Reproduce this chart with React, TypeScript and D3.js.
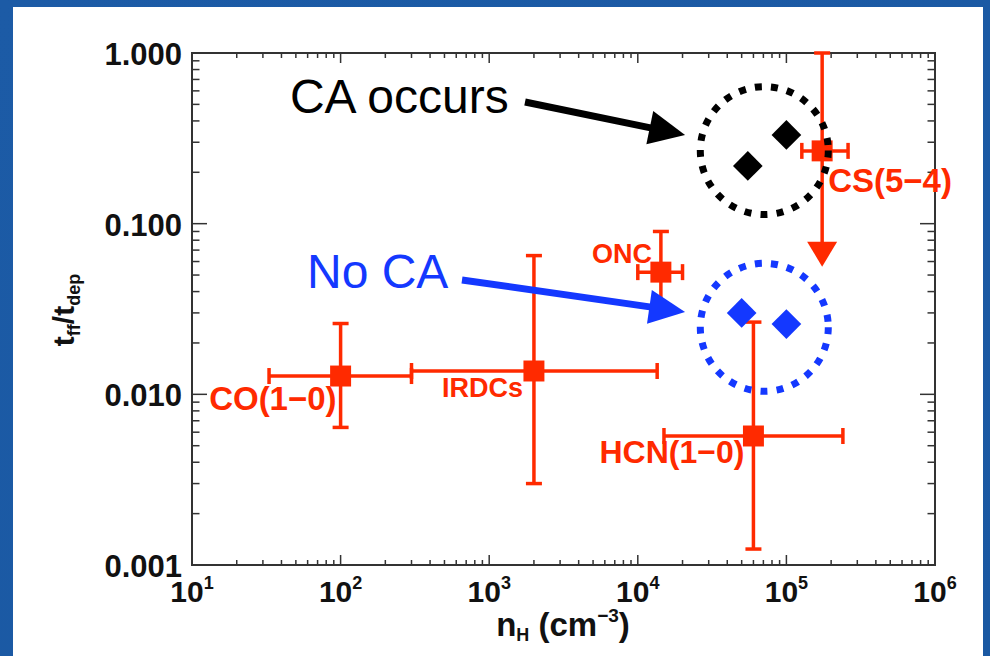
import React, { useEffect, useRef } from 'react'
import * as d3 from 'd3'

// observed tracers: density n_H (cm^-3) and t_ff/t_dep with error ranges
const tracerNames = ['CO(1−0)', 'IRDCs', 'ONC', 'HCN(1−0)', 'CS(5−4)']
const tracerN = [100, 2000, 14300, 60000, 174000]
const tracerNLow = [33, 300, 10000, 15000, 127000]
const tracerNHigh = [300, 13500, 20000, 240000, 260000]
const tracerRatio = [0.0128, 0.0137, 0.052, 0.0057, 0.267]
const tracerRatioLow = [0.0064, 0.003, 0.03, 0.00124, 0.056]
const tracerRatioHigh = [0.026, 0.065, 0.09, 0.0265, 1.0]
const tracerIsLimit = [false, false, false, false, true]

// model clouds
const caN = [55000, 100000]
const caRatio = [0.218, 0.331]
const noCaN = [50000, 100000]
const noCaRatio = [0.03, 0.0258]

// annotations
const noteText = ['CA occurs', 'No CA']
const noteN = [45.6, 59.4]
const noteRatio = [0.445, 0.042]
const arrowFromN = [1742, 656]
const arrowFromRatio = [0.516, 0.0468]
const arrowToN = [20800, 20800]
const arrowToRatio = [0.331, 0.0304]
const ringN = [71000, 71000]
const ringRatio = [0.268, 0.0247]

const xDomain = [10, 1e6]
const yDomain = [0.001, 1]

const W = 990
const H = 656
const RED = '#ff2a00'
const BLUE = '#1438ff'
const noteColors = ['#000000', BLUE]

// label placement relative to each point
const labelDx = [-4, -11, -9, -9, 6]
const labelDy = [34, 26, -9, 27, 41]
const labelAnchor = ['end', 'end', 'end', 'end', 'start']
const labelSize = [33, 27, 27, 32, 33]

const FONT = 'Liberation Sans, Arial, Helvetica, sans-serif'

export default function App() {
  const ref = useRef<SVGSVGElement>(null)

  useEffect(() => {
    const svg = d3.select(ref.current)
    svg.selectAll('*').remove()

    const left = 192, right = 935, top = 53, bottom = 565

    const x = d3.scaleLog().domain(xDomain).range([left, right])
    const y = d3.scaleLog().domain(yDomain).range([bottom, top])

    // slide background + white panel
    const defs = svg.append('defs')
    const grad = defs.append('linearGradient').attr('id', 'bg').attr('x1', 0).attr('y1', 0).attr('x2', 1).attr('y2', 1)
    grad.append('stop').attr('offset', 0).attr('stop-color', '#1c5ba6')
    grad.append('stop').attr('offset', 1).attr('stop-color', '#1a58a2')
    svg.append('rect').attr('width', W).attr('height', H).attr('fill', 'url(#bg)')
    svg.append('rect').attr('x', 13).attr('y', 7).attr('width', 970).attr('height', 660).attr('fill', '#fff')

    const g = svg.append('g')

    const isMajor = (t: number) => Math.abs(Math.log10(t) - Math.round(Math.log10(t))) < 1e-9

    // ticks on all four sides, pointing inward
    const axisCol = '#333'
    x.ticks().forEach(t => {
      const len = isMajor(t) ? 10 : 5
      const px = x(t)
      g.append('line').attr('x1', px).attr('x2', px).attr('y1', bottom).attr('y2', bottom - len).attr('stroke', axisCol).attr('stroke-width', 1.5)
      g.append('line').attr('x1', px).attr('x2', px).attr('y1', top).attr('y2', top + len).attr('stroke', axisCol).attr('stroke-width', 1.5)
    })
    y.ticks().forEach(t => {
      const len = isMajor(t) ? 15 : 7.5
      const py = y(t)
      g.append('line').attr('x1', left).attr('x2', left + len).attr('y1', py).attr('y2', py).attr('stroke', axisCol).attr('stroke-width', 1.5)
      g.append('line').attr('x1', right).attr('x2', right - len).attr('y1', py).attr('y2', py).attr('stroke', axisCol).attr('stroke-width', 1.5)
    })
    g.append('rect').attr('x', left).attr('y', top).attr('width', right - left).attr('height', bottom - top)
      .attr('fill', 'none').attr('stroke', axisCol).attr('stroke-width', 2)

    // y tick labels
    y.ticks().filter(isMajor).forEach(t => {
      g.append('text').attr('x', left - 10).attr('y', y(t) + 12)
        .attr('text-anchor', 'end').attr('font-family', FONT).attr('font-weight', 'bold')
        .attr('font-size', 31).attr('fill', '#111').text(d3.format('.3f')(t))
    })
    // x tick labels 10^n
    x.ticks().filter(isMajor).forEach(t => {
      const txt = g.append('text').attr('x', x(t)).attr('y', 602)
        .attr('text-anchor', 'middle').attr('font-family', FONT).attr('font-weight', 'bold')
        .attr('font-size', 30).attr('fill', '#111')
      txt.append('tspan').text('10')
      txt.append('tspan').attr('font-size', 18).attr('dy', -13).text(String(Math.round(Math.log10(t))))
    })

    // axis titles
    const xt = g.append('text').attr('x', 563).attr('y', 636).attr('text-anchor', 'middle')
      .attr('font-family', FONT).attr('font-weight', 'bold').attr('font-size', 33).attr('fill', '#111')
    xt.append('tspan').text('n')
    xt.append('tspan').attr('font-size', 18).attr('dy', 5).text('H')
    xt.append('tspan').attr('dy', -5).text(' (cm')
    xt.append('tspan').attr('font-size', 19).attr('dy', -14).text('−3')
    xt.append('tspan').attr('dy', 14).text(')')

    const yt = g.append('text').attr('transform', 'translate(74,310) rotate(-90)').attr('text-anchor', 'middle')
      .attr('font-family', FONT).attr('font-weight', 'bold').attr('font-size', 30).attr('fill', '#111')
    yt.append('tspan').text('t')
    yt.append('tspan').attr('font-size', 18).attr('dy', 6).text('ff')
    yt.append('tspan').attr('dy', -6).text('/t')
    yt.append('tspan').attr('font-size', 18).attr('dy', 6).text('dep')

    // error bars
    const bw = 3.5
    const cap = 8
    tracerN.forEach((n, i) => {
      const px = x(n), py = y(tracerRatio[i])
      const xl = x(tracerNLow[i]), xr = x(tracerNHigh[i])
      const yl = y(tracerRatioLow[i]), yh = y(tracerRatioHigh[i])
      g.append('line').attr('x1', xl).attr('x2', xr).attr('y1', py).attr('y2', py).attr('stroke', RED).attr('stroke-width', bw)
      g.append('line').attr('x1', xl).attr('x2', xl).attr('y1', py - cap).attr('y2', py + cap).attr('stroke', RED).attr('stroke-width', bw)
      g.append('line').attr('x1', xr).attr('x2', xr).attr('y1', py - cap).attr('y2', py + cap).attr('stroke', RED).attr('stroke-width', bw)
      g.append('line').attr('x1', px).attr('x2', px).attr('y1', yh).attr('y2', tracerIsLimit[i] ? yl - 22 : yl).attr('stroke', RED).attr('stroke-width', bw)
      g.append('line').attr('x1', px - cap).attr('x2', px + cap).attr('y1', yh).attr('y2', yh).attr('stroke', RED).attr('stroke-width', bw)
      if (tracerIsLimit[i]) {
        g.append('path').attr('d', `M${px - 15},${yl - 25}L${px + 15},${yl - 25}L${px},${yl}Z`).attr('fill', RED)
      } else {
        g.append('line').attr('x1', px - cap).attr('x2', px + cap).attr('y1', yl).attr('y2', yl).attr('stroke', RED).attr('stroke-width', bw)
      }
      g.append('path').attr('transform', `translate(${px},${py})`)
        .attr('d', d3.symbol(d3.symbolSquare, 440)()).attr('fill', RED)
    })

    // model diamonds
    const diamond = d3.symbol(d3.symbolSquare, 440)()
    caN.forEach((n, i) => {
      g.append('path').attr('transform', `translate(${x(n)},${y(caRatio[i])}) rotate(45)`).attr('d', diamond).attr('fill', '#000')
    })
    noCaN.forEach((n, i) => {
      g.append('path').attr('transform', `translate(${x(n)},${y(noCaRatio[i])}) rotate(45)`).attr('d', diamond).attr('fill', BLUE)
    })

    // tracer labels
    tracerNames.forEach((name, i) => {
      g.append('text').attr('x', x(tracerN[i]) + labelDx[i]).attr('y', y(tracerRatio[i]) + labelDy[i])
        .attr('text-anchor', labelAnchor[i]).attr('font-family', FONT).attr('font-weight', 'bold')
        .attr('font-size', labelSize[i]).attr('fill', RED).text(name)
    })

    // dotted rings, arrows and notes
    noteText.forEach((txt, i) => {
      const col = noteColors[i]
      g.append('circle').attr('cx', x(ringN[i])).attr('cy', y(ringRatio[i])).attr('r', 64)
        .attr('fill', 'none').attr('stroke', col).attr('stroke-width', 7).attr('stroke-dasharray', '7 9.2')

      const x0 = x(arrowFromN[i]), y0 = y(arrowFromRatio[i])
      const x1 = x(arrowToN[i]), y1 = y(arrowToRatio[i])
      const ang = Math.atan2(y1 - y0, x1 - x0)
      const hl = 36, hw = 17
      const bx = x1 - hl * Math.cos(ang), by = y1 - hl * Math.sin(ang)
      g.append('line').attr('x1', x0).attr('y1', y0).attr('x2', bx + 2 * Math.cos(ang)).attr('y2', by + 2 * Math.sin(ang))
        .attr('stroke', col).attr('stroke-width', 7)
      const nx = -Math.sin(ang), ny = Math.cos(ang)
      g.append('path').attr('d', `M${x1},${y1}L${bx + hw * nx},${by + hw * ny}L${bx - hw * nx},${by - hw * ny}Z`).attr('fill', col)

      g.append('text').attr('x', x(noteN[i])).attr('y', y(noteRatio[i]))
        .attr('font-family', FONT).attr('font-size', 48).attr('fill', col).text(txt)
    })
  }, [])

  return (
    <svg ref={ref} width={W} height={H} style={{ position: 'absolute', left: 0, top: 0 }} />
  )
}
